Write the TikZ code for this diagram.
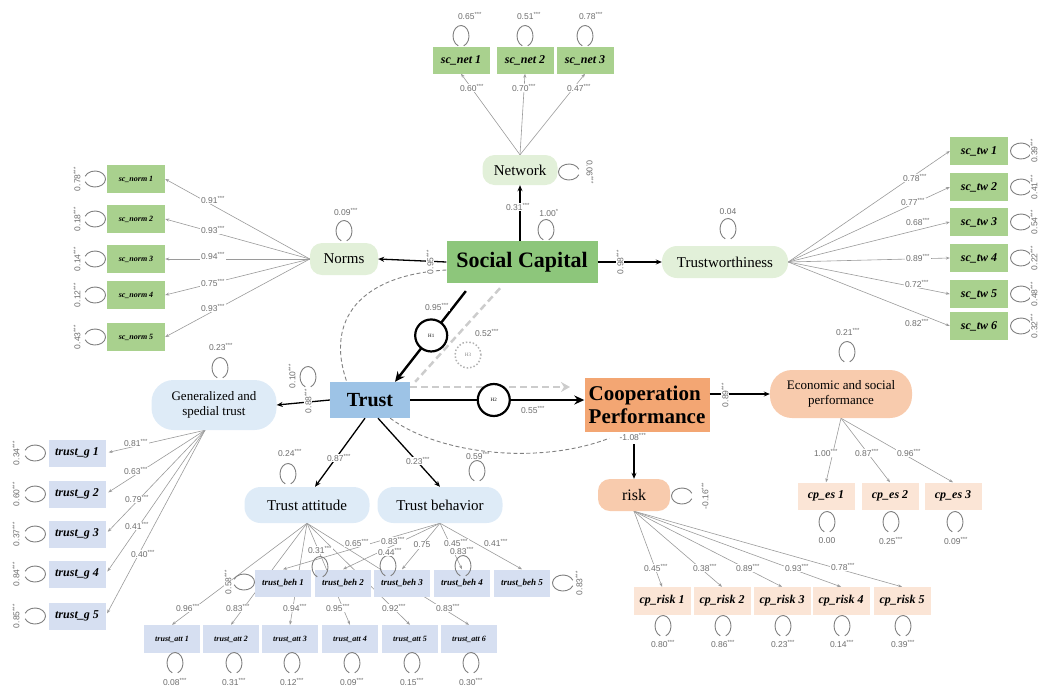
\documentclass[tikz,border=0pt]{standalone}
\usepackage{fontspec}
\setmainfont{Liberation Serif}
\newfontfamily\numfont{Liberation Sans}
\usepackage{tikz}
\usetikzlibrary{arrows.meta,positioning,backgrounds}
\usepackage{xcolor}

\definecolor{scdark}{HTML}{8DC67B}
\definecolor{scmid}{HTML}{A9D18E}
\definecolor{sclight}{HTML}{E2F0D9}
\definecolor{trdark}{HTML}{9DC3E6}
\definecolor{trmid}{HTML}{D6DFF1}
\definecolor{trlight}{HTML}{DEEBF7}
\definecolor{cpdark}{HTML}{F3A673}
\definecolor{cpmid}{HTML}{F8CBAD}
\definecolor{cplight}{HTML}{FBE5D6}
\definecolor{coefgray}{HTML}{6E6E6E}
\definecolor{linegray}{HTML}{9A9A9A}

\newcommand{\stars}[1]{#1\textsuperscript{***}}
\newcommand{\obsmid}{\fontsize{9}{9}\selectfont\bfseries\itshape}
\newcommand{\obssmall}{\fontsize{8}{8}\selectfont\bfseries\itshape}

\tikzset{
  obs/.style={fill=#1, minimum width=57pt, minimum height=27pt, inner sep=1pt,
    font=\fontsize{12}{12}\selectfont\bfseries\itshape},
  lat/.style={fill=#1, rounded corners=12pt, inner sep=2pt, align=center,
    font=\fontsize{15}{16}\selectfont},
  factor/.style={fill=#1, inner sep=2pt, align=center,
    font=\fontsize{22}{24}\selectfont\bfseries},
  load/.style={draw=linegray, line width=0.6pt, -{Stealth[length=4pt,width=3pt]}},
  arrow/.style={draw=black, line width=1.3pt, -{Stealth[length=6pt,width=5pt]}},
  hyp/.style={draw=black, line width=2.4pt, -{Stealth[length=10pt,width=9pt]}},
  mediation/.style={draw=gray!40, line width=2.5pt, dash pattern=on 7pt off 4pt},
  corr/.style={draw=gray, line width=0.9pt, dash pattern=on 4pt off 2.5pt},
  coef/.style={font=\numfont\fontsize{8.5}{9}\selectfont, text=coefgray, fill=white, inner sep=0.6pt},
  hcircle/.style={circle, draw=black, line width=2.2pt, fill=white, minimum size=32pt,
    inner sep=0pt, font=\fontsize{5}{5}\selectfont},
  resid/.pic={\draw[draw=gray, line width=0.9pt] (-70:8pt and 10.5pt)
    arc[start angle=-70, end angle=250, x radius=8pt, y radius=10.5pt];}
}

\begin{document}
\begin{tikzpicture}[x=1pt, y=-1pt]
\useasboundingbox (0,0) rectangle (1040,691);

% social capital and its dimensions
\node[factor=scdark, minimum width=151pt, minimum height=42pt] (social) at (522,262) {Social Capital};
\node[lat=sclight, minimum width=75pt, minimum height=30pt] (network) at (520,170) {Network};
\node[lat=sclight, minimum width=68pt, minimum height=32pt] (norms) at (344,259) {Norms};
\node[lat=sclight, minimum width=126pt, minimum height=32pt, rounded corners=15pt] (trustw) at (725,262) {Trustworthiness};

\node[obs=scmid] (scnet1) at (461,60) {sc\_net 1};
\node[obs=scmid] (scnet2) at (525,60) {sc\_net 2};
\node[obs=scmid] (scnet3) at (585,60) {sc\_net 3};

\node[obs=scmid, minimum width=58pt, minimum height=28pt, font=\obssmall] (scnorm1) at (136,179) {sc\_norm 1};
\node[obs=scmid, minimum width=58pt, minimum height=28pt, font=\obssmall] (scnorm2) at (136,219) {sc\_norm 2};
\node[obs=scmid, minimum width=58pt, minimum height=28pt, font=\obssmall] (scnorm3) at (136,259) {sc\_norm 3};
\node[obs=scmid, minimum width=58pt, minimum height=28pt, font=\obssmall] (scnorm4) at (136,295) {sc\_norm 4};
\node[obs=scmid, minimum width=58pt, minimum height=28pt, font=\obssmall] (scnorm5) at (136,337) {sc\_norm 5};

\node[obs=scmid, minimum width=58pt, minimum height=28pt] (sctw1) at (979,151) {sc\_tw 1};
\node[obs=scmid, minimum width=58pt, minimum height=28pt] (sctw2) at (979,187) {sc\_tw 2};
\node[obs=scmid, minimum width=58pt, minimum height=28pt] (sctw3) at (979,222) {sc\_tw 3};
\node[obs=scmid, minimum width=58pt, minimum height=28pt] (sctw4) at (979,258) {sc\_tw 4};
\node[obs=scmid, minimum width=58pt, minimum height=28pt] (sctw5) at (979,294) {sc\_tw 5};
\node[obs=scmid, minimum width=58pt, minimum height=28pt] (sctw6) at (979,326) {sc\_tw 6};

% trust and its dimensions
\node[factor=trdark, minimum width=80pt, minimum height=36pt, font=\fontsize{20}{22}\selectfont\bfseries] (trust) at (370,400) {Trust};
\node[lat=trlight, minimum width=125pt, minimum height=50pt, rounded corners=22pt, font=\fontsize{13}{15}\selectfont] (general) at (214,405) {Generalized and\\spedial trust};
\node[lat=trlight, minimum width=125pt, minimum height=36pt, rounded corners=16pt] (tattitude) at (307,505) {Trust attitude};
\node[lat=trlight, minimum width=125pt, minimum height=36pt, rounded corners=16pt] (tbehavior) at (440,505) {Trust behavior};

\node[obs=trmid] (trustg1) at (77,453) {trust\_g 1};
\node[obs=trmid] (trustg2) at (77,494) {trust\_g 2};
\node[obs=trmid] (trustg3) at (77,534) {trust\_g 3};
\node[obs=trmid] (trustg4) at (77,574) {trust\_g 4};
\node[obs=trmid] (trustg5) at (77,616) {trust\_g 5};

\node[obs=trmid, minimum width=56pt, font=\obsmid] (tbeh1) at (283,583) {trust\_beh 1};
\node[obs=trmid, minimum width=56pt, font=\obsmid] (tbeh2) at (343,583) {trust\_beh 2};
\node[obs=trmid, minimum width=56pt, font=\obsmid] (tbeh3) at (402,583) {trust\_beh 3};
\node[obs=trmid, minimum width=56pt, font=\obsmid] (tbeh4) at (462,583) {trust\_beh 4};
\node[obs=trmid, minimum width=56pt, font=\obsmid] (tbeh5) at (522,583) {trust\_beh 5};

\node[obs=trmid, minimum width=56pt, minimum height=28pt, font=\obssmall] (tatt1) at (172,639) {trust\_att 1};
\node[obs=trmid, minimum width=56pt, minimum height=28pt, font=\obssmall] (tatt2) at (231,639) {trust\_att 2};
\node[obs=trmid, minimum width=56pt, minimum height=28pt, font=\obssmall] (tatt3) at (290,639) {trust\_att 3};
\node[obs=trmid, minimum width=56pt, minimum height=28pt, font=\obssmall] (tatt4) at (350,639) {trust\_att 4};
\node[obs=trmid, minimum width=56pt, minimum height=28pt, font=\obssmall] (tatt5) at (410,639) {trust\_att 5};
\node[obs=trmid, minimum width=56pt, minimum height=28pt, font=\obssmall] (tatt6) at (469,639) {trust\_att 6};

% cooperation performance and its dimensions
\node[factor=cpdark, minimum width=125pt, minimum height=54pt, inner sep=0pt, align=left, font=\fontsize{21}{23}\selectfont\bfseries] (coop) at (647,405) {Cooperation\\Performance};
\node[lat=cpmid, minimum width=142pt, minimum height=48pt, rounded corners=22pt, font=\fontsize{13}{15}\selectfont] (econ) at (841,394) {Economic and social\\performance};
\node[lat=cpmid, minimum width=72pt, minimum height=32pt, font=\fontsize{16}{17}\selectfont] (risk) at (634,495) {risk};

\node[obs=cplight] (cpes1) at (826,496) {cp\_es 1};
\node[obs=cplight] (cpes2) at (890,496) {cp\_es 2};
\node[obs=cplight] (cpes3) at (953,496) {cp\_es 3};

\node[obs=cplight, minimum height=28pt] (cprisk1) at (662,601) {cp\_risk 1};
\node[obs=cplight, minimum height=28pt] (cprisk2) at (722,601) {cp\_risk 2};
\node[obs=cplight, minimum height=28pt] (cprisk3) at (782,601) {cp\_risk 3};
\node[obs=cplight, minimum height=28pt] (cprisk4) at (841,601) {cp\_risk 4};
\node[obs=cplight, minimum height=28pt] (cprisk5) at (902,601) {cp\_risk 5};

% loadings, behind the boxes
\begin{pgfonlayer}{background}
\draw[load] (network.north) -- (scnet1.south);
\draw[load] (network.north) -- (scnet2.south);
\draw[load] (network.north) -- (scnet3.south);
\draw[load] (norms.west) -- (scnorm1.east);
\draw[load] (norms.west) -- (scnorm2.east);
\draw[load] (norms.west) -- (scnorm3.east);
\draw[load] (norms.west) -- (scnorm4.east);
\draw[load] (norms.west) -- (scnorm5.east);
\draw[load] (trustw.east) -- (sctw1.west);
\draw[load] (trustw.east) -- (sctw2.west);
\draw[load] (trustw.east) -- (sctw3.west);
\draw[load] (trustw.east) -- (sctw4.west);
\draw[load] (trustw.east) -- (sctw5.west);
\draw[load] (trustw.east) -- (sctw6.west);
\draw[load, shorten >=3pt] ([xshift=-9pt]general.south) -- (trustg1.east);
\draw[load, shorten >=3pt] ([xshift=-9pt]general.south) -- (trustg2.east);
\draw[load, shorten >=3pt] ([xshift=-9pt]general.south) -- (trustg3.east);
\draw[load, shorten >=3pt] ([xshift=-9pt]general.south) -- (trustg4.east);
\draw[load, shorten >=3pt] ([xshift=-9pt]general.south) -- (trustg5.east);
\draw[load] (tattitude.south) -- (tatt1.north);
\draw[load] (tattitude.south) -- (tatt2.north);
\draw[load] (tattitude.south) -- (tatt3.north);
\draw[load] (tattitude.south) -- (tatt4.north);
\draw[load] (tattitude.south) -- (tatt5.north);
\draw[load] (tattitude.south) -- (tatt6.north);
\draw[load] (tbehavior.south) -- (tbeh1.north);
\draw[load] (tbehavior.south) -- (tbeh2.north);
\draw[load] (tbehavior.south) -- (tbeh3.north);
\draw[load] (tbehavior.south) -- (tbeh4.north);
\draw[load] (tbehavior.south) -- (tbeh5.north);
\draw[load] (econ.south) -- (cpes1.north);
\draw[load] (econ.south) -- (cpes2.north);
\draw[load] (econ.south) -- (cpes3.north);
\draw[load] (risk.south) -- (cprisk1.north);
\draw[load] (risk.south) -- (cprisk2.north);
\draw[load] (risk.south) -- (cprisk3.north);
\draw[load] (risk.south) -- (cprisk4.north);
\draw[load] (risk.south) -- (cprisk5.north);
\end{pgfonlayer}

% structural paths
\draw[corr] ([yshift=-8pt]social.west) .. controls (360,275) and (325,320) .. ([xshift=17pt]trust.north west);
\draw[corr] ([xshift=-20pt]trust.south east) .. controls (440,455) and (540,465) .. ([xshift=25pt,yshift=-6pt]coop.south west);
\draw[mediation] ([xshift=-22pt,yshift=-5pt]social.south) -- ([xshift=5pt]trust.north east);
\coordinate (medend) at (570,387);
\draw[mediation, -{Stealth[length=9pt,width=10pt]}] ([yshift=13pt]trust.east) -- (medend);
\node[circle, draw=gray!60, dotted, line width=1.5pt, minimum size=26pt, inner sep=0pt, text=gray, font=\fontsize{5}{5}\selectfont] (hthree) at (468,355) {H3};

\draw[arrow] (social.west) -- (norms.east);
\draw[arrow] (social.east) -- (trustw.west);
\draw[arrow] (social.north -| network.south) -- (network.south);
\draw[hyp, shorten <=10pt] ([xshift=-50pt]social.south) -- node[hcircle, pos=0.53] (hone) {H1} ([xshift=25pt]trust.north);
\draw[hyp] (trust.east) -- node[hcircle, pos=0.48] (htwo) {H2} (trust.east -| coop.west);
\draw[arrow] (trust.west) -- (general.east);
\draw[arrow] ([xshift=-5pt]trust.south) -- ([xshift=8pt]tattitude.north);
\draw[arrow] ([xshift=8pt]trust.south) -- (tbehavior.north);
\draw[arrow] (coop.east |- econ.west) -- (econ.west);
\draw[arrow, shorten <=12pt] (risk.north |- coop.south) -- (risk.north);

% residual loops
\pic at (461,36) {resid};
\pic at (525,36) {resid};
\pic at (585,36) {resid};
\pic[rotate=90] at (569,172) {resid};
\pic at (344,231) {resid};
\pic at (546,230) {resid};
\pic at (728,229) {resid};
\pic[rotate=-90] at (95,179) {resid};
\pic[rotate=-90] at (95,219) {resid};
\pic[rotate=-90] at (95,259) {resid};
\pic[rotate=-90] at (95,295) {resid};
\pic[rotate=-90] at (95,337) {resid};
\pic[rotate=90] at (1021,151) {resid};
\pic[rotate=90] at (1021,187) {resid};
\pic[rotate=90] at (1021,222) {resid};
\pic[rotate=90] at (1021,258) {resid};
\pic[rotate=90] at (1021,294) {resid};
\pic[rotate=90] at (1021,326) {resid};
\pic at (308,377) {resid};
\pic at (220,368) {resid};
\pic[rotate=-90] at (35,453) {resid};
\pic[rotate=-90] at (35,494) {resid};
\pic[rotate=-90] at (35,534) {resid};
\pic[rotate=-90] at (35,574) {resid};
\pic[rotate=-90] at (35,616) {resid};
\pic at (288,474) {resid};
\pic at (477,471) {resid};
\pic[rotate=-90] at (244,582) {resid};
\pic at (320,567) {resid};
\pic at (388,566) {resid};
\pic at (463,566) {resid};
\pic[rotate=90] at (563,583) {resid};
\pic at (175,663) {resid};
\pic at (234,663) {resid};
\pic at (292,663) {resid};
\pic at (352,663) {resid};
\pic at (412,663) {resid};
\pic at (471,663) {resid};
\pic at (847,352) {resid};
\pic at (827,522) {resid};
\pic at (891,522) {resid};
\pic at (955,522) {resid};
\pic[rotate=90] at (682,496) {resid};
\pic at (663,626) {resid};
\pic at (723,626) {resid};
\pic at (783,626) {resid};
\pic at (842,626) {resid};
\pic at (903,626) {resid};

% coefficients
\node[coef] (vnet1) at (470,16) {\stars{0.65}};
\node[coef] (vnet2) at (529,16) {\stars{0.51}};
\node[coef] (vnet3) at (591,16) {\stars{0.78}};
\node[coef] (lnet1) at (472,88) {\stars{0.60}};
\node[coef] (lnet2) at (524,88) {\stars{0.70}};
\node[coef] (lnet3) at (579,88) {\stars{0.47}};
\node[coef, rotate=-90] (vnetwork) at (590,172) {\stars{0.06}};
\node[coef] (vnorms) at (346,212) {\stars{0.09}};
\node[coef] (vsocial) at (549,213) {1.00\textsuperscript{*}};
\node[coef] (vtrustw) at (728,212) {0.04};
\node[coef] (lnetwork) at (518,207) {\stars{0.31}};
\node[coef, rotate=90] (lnorms) at (430,262) {\stars{0.95}};
\node[coef, rotate=90] (ltrustw) at (620,262) {\stars{0.98}};

\node[coef, rotate=90] (vnorm1) at (77,179) {\stars{0.78}};
\node[coef, rotate=90] (vnorm2) at (77,219) {\stars{0.18}};
\node[coef, rotate=90] (vnorm3) at (77,259) {\stars{0.14}};
\node[coef, rotate=90] (vnorm4) at (77,295) {\stars{0.12}};
\node[coef, rotate=90] (vnorm5) at (77,337) {\stars{0.43}};
\node[coef] (lnorm1) at (213,200) {\stars{0.91}};
\node[coef] (lnorm2) at (213,230) {\stars{0.93}};
\node[coef] (lnorm3) at (213,256) {\stars{0.94}};
\node[coef] (lnorm4) at (213,283) {\stars{0.75}};
\node[coef] (lnorm5) at (213,308) {\stars{0.93}};

\node[coef] (ltw1) at (915,178) {\stars{0.78}};
\node[coef] (ltw2) at (913,202) {\stars{0.77}};
\node[coef] (ltw3) at (918,222) {\stars{0.68}};
\node[coef] (ltw4) at (918,258) {\stars{0.89}};
\node[coef] (ltw5) at (917,284) {\stars{0.72}};
\node[coef] (ltw6) at (917,323) {\stars{0.82}};
\node[coef, rotate=90] (vtw1) at (1034,151) {\stars{0.39}};
\node[coef, rotate=90] (vtw2) at (1034,187) {\stars{0.41}};
\node[coef, rotate=90] (vtw3) at (1034,222) {\stars{0.54}};
\node[coef, rotate=90] (vtw4) at (1034,258) {\stars{0.22}};
\node[coef, rotate=90] (vtw5) at (1034,294) {\stars{0.48}};
\node[coef, rotate=90] (vtw6) at (1034,326) {\stars{0.32}};

\node[coef] (lhone) at (437,307) {\stars{0.95}};
\node[coef] (lhthree) at (487,333) {\stars{0.52}};
\node[coef] (lhtwo) at (533,410) {\stars{0.55}};
\node[coef, rotate=90] (vtrust) at (292,376) {\stars{0.10}};
\node[coef, rotate=90] (lgeneral) at (308,401) {\stars{0.88}};
\node[coef] (vgeneral) at (221,347) {\stars{0.23}};
\node[coef] (lcorr) at (633,437) {\stars{-1.08}};
\node[coef, rotate=90] (lecon) at (725,395) {\stars{0.89}};

\node[coef, rotate=90] (vg1) at (16,453) {\stars{0.34}};
\node[coef, rotate=90] (vg2) at (16,494) {\stars{0.60}};
\node[coef, rotate=90] (vg3) at (16,534) {\stars{0.37}};
\node[coef, rotate=90] (vg4) at (16,574) {\stars{0.84}};
\node[coef, rotate=90] (vg5) at (16,616) {\stars{0.85}};
\node[coef] (lg1) at (136,443) {\stars{0.81}};
\node[coef] (lg2) at (136,471) {\stars{0.63}};
\node[coef] (lg3) at (137,499) {\stars{0.79}};
\node[coef] (lg4) at (137,526) {\stars{0.41}};
\node[coef] (lg5) at (143,554) {\stars{0.40}};

\node[coef] (lattitude) at (339,458) {\stars{0.87}};
\node[coef] (lbehavior) at (418,461) {\stars{0.23}};
\node[coef] (vattitude) at (290,453) {\stars{0.24}};
\node[coef] (vbehavior) at (478,456) {\stars{0.59}};

\node[coef, rotate=90] (vbeh1) at (228,582) {\stars{0.58}};
\node[coef] (vbeh2) at (320,550) {\stars{0.31}};
\node[coef] (vbeh3) at (390,552) {\stars{0.44}};
\node[coef] (vbeh4) at (462,551) {\stars{0.83}};
\node[coef, rotate=90] (vbeh5) at (579,583) {\stars{0.83}};
\node[coef] (lbeh1) at (357,543) {\stars{0.65}};
\node[coef] (lbeh2) at (393,541) {\stars{0.83}};
\node[coef] (lbeh3) at (422,545) {0.75};
\node[coef] (lbeh4) at (456,543) {\stars{0.45}};
\node[coef] (lbeh5) at (496,543) {\stars{0.41}};

\node[coef] (latt1) at (188,608) {\stars{0.96}};
\node[coef] (latt2) at (238,608) {\stars{0.83}};
\node[coef] (latt3) at (295,608) {\stars{0.94}};
\node[coef] (latt4) at (338,608) {\stars{0.95}};
\node[coef] (latt5) at (394,608) {\stars{0.92}};
\node[coef] (latt6) at (448,608) {\stars{0.83}};
\node[coef] (vatt1) at (175,682) {\stars{0.08}};
\node[coef] (vatt2) at (234,682) {\stars{0.31}};
\node[coef] (vatt3) at (292,682) {\stars{0.12}};
\node[coef] (vatt4) at (352,682) {\stars{0.09}};
\node[coef] (vatt5) at (412,682) {\stars{0.15}};
\node[coef] (vatt6) at (471,682) {\stars{0.30}};

\node[coef] (vecon) at (848,332) {\stars{0.21}};
\node[coef] (les1) at (826,453) {\stars{1.00}};
\node[coef] (les2) at (867,453) {\stars{0.87}};
\node[coef] (les3) at (909,453) {\stars{0.96}};
\node[coef] (ves1) at (827,541) {0.00};
\node[coef] (ves2) at (891,541) {\stars{0.25}};
\node[coef] (ves3) at (956,541) {\stars{0.09}};

\node[coef, rotate=90] (vrisk) at (705,496) {\stars{-0.16}};
\node[coef] (lrisk1) at (656,568) {\stars{0.45}};
\node[coef] (lrisk2) at (705,568) {\stars{0.38}};
\node[coef] (lrisk3) at (748,568) {\stars{0.89}};
\node[coef] (lrisk4) at (797,568) {\stars{0.93}};
\node[coef] (lrisk5) at (843,567) {\stars{0.78}};
\node[coef] (vrisk1) at (663,644) {\stars{0.80}};
\node[coef] (vrisk2) at (723,644) {\stars{0.86}};
\node[coef] (vrisk3) at (783,644) {\stars{0.23}};
\node[coef] (vrisk4) at (842,644) {\stars{0.14}};
\node[coef] (vrisk5) at (903,644) {\stars{0.39}};
\end{tikzpicture}
\end{document}
